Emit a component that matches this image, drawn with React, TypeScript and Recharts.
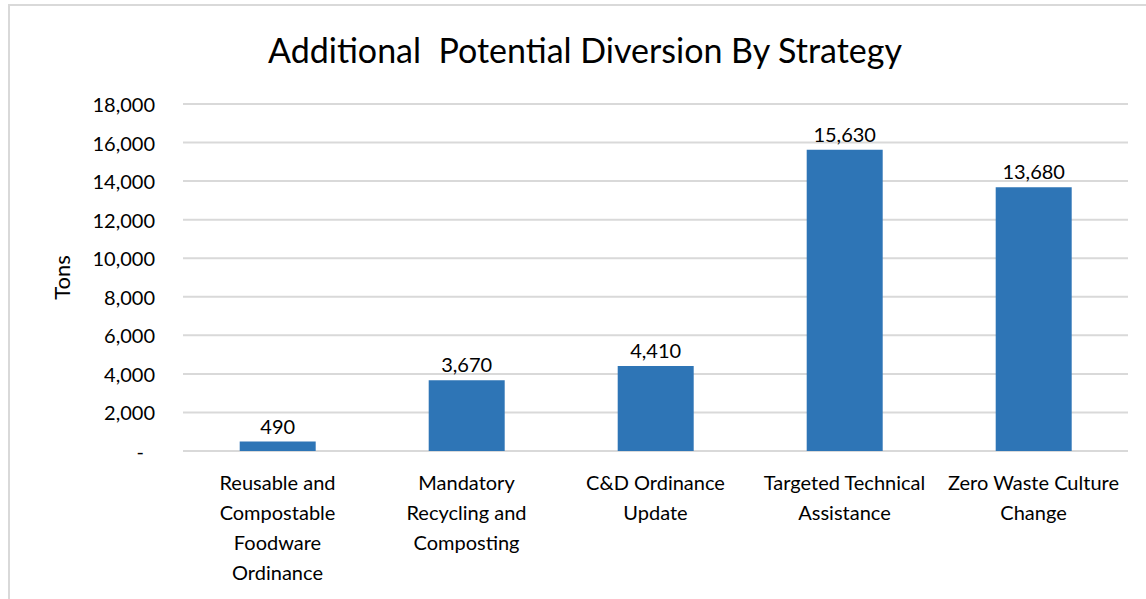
import { BarChart, Bar, XAxis, YAxis, CartesianGrid, LabelList } from 'recharts';

const categories = [
  'Reusable and Compostable Foodware Ordinance',
  'Mandatory Recycling and Composting',
  'C&D Ordinance Update',
  'Targeted Technical Assistance',
  'Zero Waste Culture Change',
];
const tickLines = [
  ['Reusable and', 'Compostable', 'Foodware', 'Ordinance'],
  ['Mandatory', 'Recycling and', 'Composting'],
  ['C&D Ordinance', 'Update'],
  ['Targeted Technical', 'Assistance'],
  ['Zero Waste Culture', 'Change'],
];
const tons = [490, 3670, 4410, 15630, 13680];
const yTicks = [0, 2000, 4000, 6000, 8000, 10000, 12000, 14000, 16000, 18000];

const data = categories.map((name, i) => ({ name, tons: tons[i] }));

const FONT = 'Lato, "Open Sans", sans-serif';
const fmt = (v: number) => (v === 0 ? '-' : v.toLocaleString('en-US'));

function CategoryTick({ x, y, index }: any) {
  const lines = tickLines[index] || [];
  return (
    <g>
      {lines.map((t, i) => (
        <text key={i} x={x} y={y + 23 + i * 30} textAnchor="middle" dominantBaseline="central"
          fontSize={20} fontFamily={FONT} fill="#000">{t}</text>
      ))}
    </g>
  );
}

function ValueTick({ y, payload }: any) {
  const zero = payload.value === 0;
  return (
    <text x={zero ? 144 : 155} y={y} textAnchor="end" dominantBaseline="central"
      fontSize={20} fontFamily={FONT} fill="#000">{fmt(payload.value)}</text>
  );
}

export default function App() {
  return (
    <div style={{ position: 'absolute', left: 0, top: 0, width: 1146, height: 599, overflow: 'hidden', background: '#fff' }}>
      <div style={{ position: 'absolute', left: 8, top: 4, width: 1300, height: 800, border: '2px solid #d9d9d9' }} />
      <div style={{ position: 'absolute', left: 235, top: 28, width: 700, textAlign: 'center', fontFamily: FONT, fontSize: 34, lineHeight: '44px', color: '#000', whiteSpace: 'nowrap' }}>
        Additional&nbsp; Potential Diversion By Strategy
      </div>
      <div style={{ position: 'absolute', left: 0, top: 0 }}>
        <BarChart width={1146} height={599} data={data} barCategoryGap="30%"
          margin={{ top: 104, right: 18, bottom: 0, left: 0 }}>
          <CartesianGrid vertical={false} stroke="#d9d9d9" strokeWidth={2} />
          <XAxis dataKey="name" height={148} axisLine={false} tickLine={false} interval={0} tick={<CategoryTick />} />
          <YAxis width={183} domain={[0, 18000]} ticks={yTicks} axisLine={false} tickLine={false}
            tick={<ValueTick />}
            label={{ value: 'Tons', angle: -90, position: 'insideLeft', offset: 0, dx: 62, style: { fontFamily: FONT, fontSize: 22, fill: '#000', textAnchor: 'middle' } }} />
          <Bar dataKey="tons" fill="#2e75b6" isAnimationActive={false}>
            <LabelList dataKey="tons" position="top" offset={8} formatter={(v: any) => fmt(Number(v))}
              style={{ fontFamily: FONT, fontSize: 20, fill: '#000' }} />
          </Bar>
        </BarChart>
      </div>
    </div>
  );
}
